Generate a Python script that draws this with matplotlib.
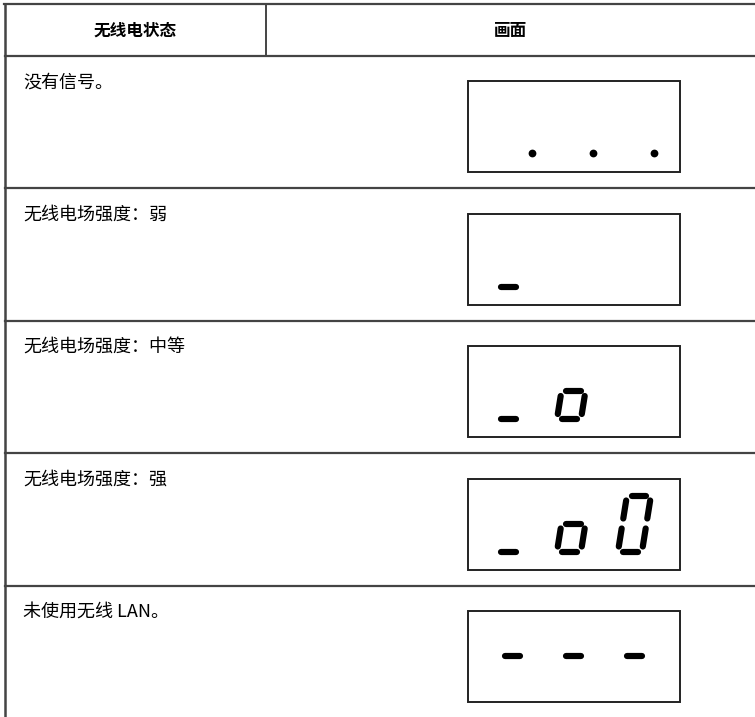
import matplotlib
matplotlib.use("Agg")
import matplotlib.pyplot as plt

plt.rcParams['font.family'] = ['Noto Sans CJK SC', 'DejaVu Sans']

# 表头与各行
encabezados = ["无线电状态", "画面"]
estados = ["没有信号。", "无线电场强度：弱", "无线电场强度：中等", "无线电场强度：强", "未使用无线 LAN。"]
# 三位七段显示内容（每个字符一位）
pantallas = ["...", "_  ", "_o ", "_o0", "---"]
SEGMENTOS = {".": "p", "_": "d", "o": "cdeg", "0": "abcdef", "-": "g", " ": ""}

# 版面（像素坐标）
W, H = 755, 717
x_izq, x_col, y_top, y_head = 5, 266, 4, 55.5
alto_fila = 132.5
caja_x0, caja_x1, caja_dy, caja_h = 468, 680, 25.5, 91
dig_x0, dig_paso, dig_w, dig_h, inclin, hueco = 496, 61, 24, 28, 0.16, 5.0
grosor_seg = 6.2 * 0.72
color_linea = "#444444"


def dibujar_digito(ax, x0, yd, segs):
    w, h, g = dig_w, dig_h, hueco
    defs = {
        "a": [(g, 2 * h), (w - g, 2 * h)],
        "b": [(w, h + g), (w, 2 * h - g)],
        "c": [(w, g), (w, h - g)],
        "d": [(g - 0.5, 0), (w - g + 0.5, 0)],
        "e": [(0, g), (0, h - g)],
        "f": [(0, h + g), (0, 2 * h - g)],
        "g": [(g - 0.5, h), (w - g + 0.5, h)],
    }
    for s in segs:
        if s == "p":
            ax.plot([x0 + 36], [yd - 1], "o", color="black", markersize=5.6, markeredgewidth=0)
            continue
        (u1, v1), (u2, v2) = defs[s]
        xs = [x0 + u1 + inclin * v1, x0 + u2 + inclin * v2]
        ys = [yd - v1, yd - v2]
        ax.plot(xs, ys, color="black", linewidth=grosor_seg, solid_capstyle="round")


fig = plt.figure(figsize=(W / 100, H / 100), dpi=100)
ax = fig.add_axes([0, 0, 1, 1])
ax.set_xlim(0, W)
ax.set_ylim(H, 0)
ax.axis("off")

# 表格线
ax.plot([x_izq - 1, W], [y_top, y_top], color=color_linea, linewidth=1.6)
ax.plot([x_izq, x_izq], [y_top, H], color=color_linea, linewidth=1.8)
ax.plot([x_col, x_col], [y_top, y_head], color=color_linea, linewidth=1.4)
for i in range(len(estados)):
    y = y_head + i * alto_fila
    ax.plot([x_izq, W], [y, y], color=color_linea, linewidth=1.6)

ax.text((x_izq + x_col) / 2, (y_top + y_head) / 2 + 1, encabezados[0], ha="center", va="center",
        fontsize=12, fontweight="bold")
ax.text((x_col + W) / 2, (y_top + y_head) / 2 + 1, encabezados[1], ha="center", va="center",
        fontsize=12, fontweight="bold")

for i, (estado, pantalla) in enumerate(zip(estados, pantallas)):
    y0 = y_head + i * alto_fila
    ax.text(23, y0 + 27, estado, ha="left", va="center", fontsize=13)
    ct = y0 + caja_dy
    ax.add_patch(plt.Rectangle((caja_x0, ct), caja_x1 - caja_x0, caja_h, fill=False,
                               edgecolor="#222222", linewidth=1.4))
    for j, car in enumerate(pantalla):
        dibujar_digito(ax, dig_x0 + j * dig_paso, ct + 73, SEGMENTOS[car])

fig.savefig("out.png", dpi=100)
